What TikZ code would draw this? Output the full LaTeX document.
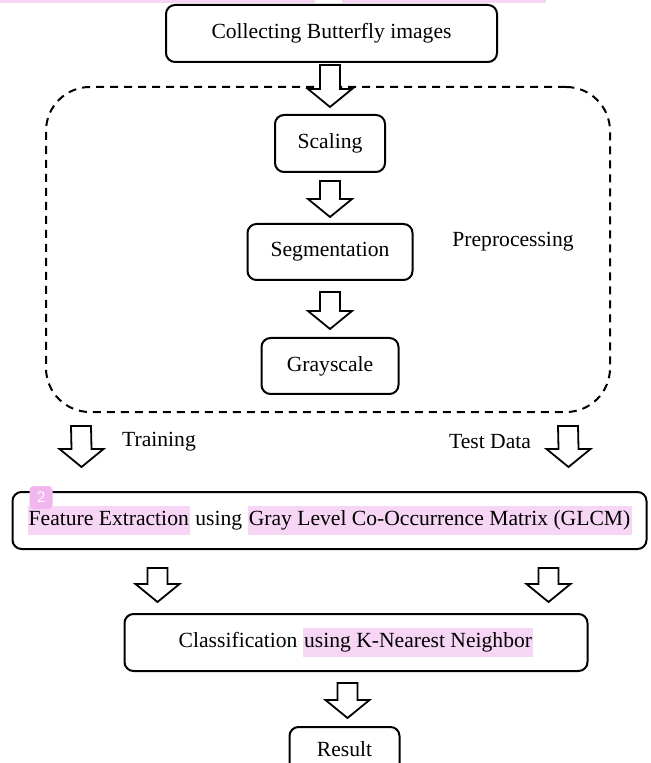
\documentclass[tikz,border=0pt]{standalone}
\usepackage{fontspec}
\setmainfont{Liberation Serif}
\usepackage{tikz}
\usetikzlibrary{positioning}
\usetikzlibrary{calc}
\definecolor{hlpink}{RGB}{247,214,245}
\definecolor{tagpink}{RGB}{242,182,238}
\newcommand{\hlmark}[1]{{\setlength{\fboxsep}{0.6pt}\colorbox{hlpink}{\strut #1}}}

\begin{document}
\begin{tikzpicture}[auto,node distance=25pt,
    box node/.style={rectangle,draw,rounded corners=4.5pt,line width=1pt,inner sep=0pt,
                     minimum height=28.5pt,font=\fontsize{10.8}{13}\selectfont},
    group node/.style={rectangle,draw,dash pattern=on 4pt off 3pt,rounded corners=22pt,line width=1pt},
    text node/.style={inner sep=0pt,font=\fontsize{10.8}{13}\selectfont},
    fat arrow/.style={draw,fill=white,line width=0.9pt,line join=miter,
      to path={($(\tikztostart)+(-5pt,0)$) -- ($(\tikztotarget)+(-5pt,9pt)$)
               -- ($(\tikztotarget)+(-11pt,9pt)$) -- (\tikztotarget)
               -- ($(\tikztotarget)+(11pt,9pt)$) -- ($(\tikztotarget)+(5pt,9pt)$)
               -- ($(\tikztostart)+(5pt,0)$) -- cycle}}]

  \useasboundingbox (0,0) rectangle (325pt,-381.5pt);
  \fill[hlpink] (0,0) rectangle (157.5pt,-1.5pt) (171pt,0) rectangle (273pt,-1.5pt);

  \node[group node,minimum width=282pt,minimum height=162.5pt] (prep) at (164pt,-124.75pt) {};

  \node[box node,minimum width=165.5pt] (collect) at (165.75pt,-16.75pt) {Collecting Butterfly images};
  \node[box node,minimum width=55pt] (scaling) [below=25.5pt of collect,xshift=-0.75pt] {Scaling};
  \node[box node,minimum width=82.5pt,minimum height=28pt] (seg) [below=25pt of scaling] {Segmentation};
  \node[box node,minimum width=68.5pt,minimum height=28pt] (gray) [below=28pt of seg] {Grayscale};
  \node[box node,minimum width=317pt] (feature) [below=48pt of gray,xshift=-0.25pt]
    {\hlmark{Feature Extraction} using \hlmark{Gray Level Co-Occurrence Matrix (GLCM)}};
  \node[box node,minimum width=231.5pt] (classif) [below=31.5pt of feature,xshift=13.25pt]
    {Classification \hlmark{using K-Nearest Neighbor}};
  \node[box node,minimum width=55pt,minimum height=22.5pt] (result) [below=27pt of classif,xshift=-5.75pt] {Result};

  \node[text node] (preptext) at (256.5pt,-121pt) {Preprocessing};
  \node[text node] (train) at (79.5pt,-221pt) {Training};
  \node[text node] (test) at (245pt,-221pt) {Test Data};
  \node[fill=tagpink,rounded corners=2pt,minimum size=11.5pt,inner sep=0pt,text=white,
        font=\sffamily\fontsize{8}{9}\selectfont] (tag) at ($(feature.north west)+(14.75pt,-3.25pt)$) {2};

  \draw[fat arrow] ($(collect.south -| scaling.north)+(0,-1pt)$) to ($(scaling.north)+(0,3.5pt)$);
  \draw[fat arrow] ($(scaling.south)+(0,-4pt)$) to ($(seg.north)+(0,3pt)$);
  \draw[fat arrow] ($(seg.south)+(0,-5.5pt)$) to ($(gray.north)+(0,4pt)$);
  \draw[fat arrow] ($(prep.south west)+(18pt,-6.5pt)$) to ($(feature.north west)+(35pt,12pt)$);
  \draw[fat arrow] ($(prep.south east)+(-21.5pt,-6.5pt)$) to ($(feature.north east)+(-39.5pt,12pt)$);
  \draw[fat arrow] ($(feature.south west)+(73pt,-9pt)$) to ($(classif.north west)+(17pt,5.5pt)$);
  \draw[fat arrow] ($(feature.south east)+(-49.5pt,-9pt)$) to ($(classif.north east)+(-20pt,5.5pt)$);
  \draw[fat arrow] ($(classif.south)+(-4.25pt,-5.5pt)$) to ($(result.north)+(1.5pt,4pt)$);
\end{tikzpicture}
\end{document}
